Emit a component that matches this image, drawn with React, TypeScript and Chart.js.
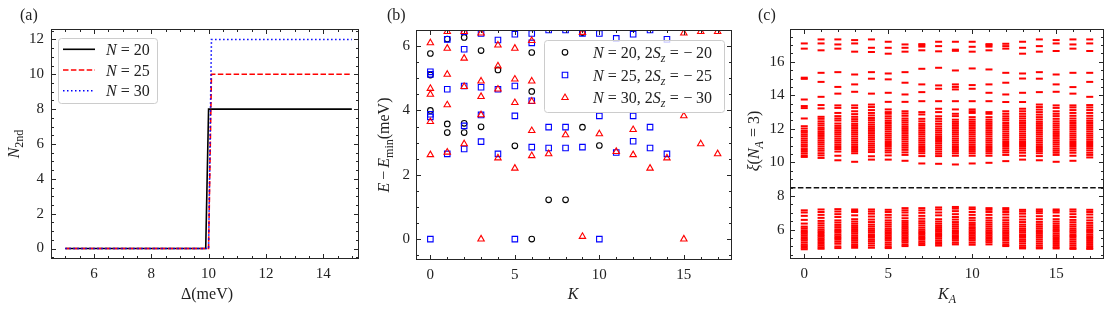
import React, { useEffect, useRef } from 'react';
import { Chart, registerables } from 'chart.js';

Chart.register(...registerables);

const FONT = '"Liberation Serif", "Times New Roman", serif';
const TICK_SIZE = 15;
const LABEL_SIZE = 16;
const LEG_SIZE = 16;
const INK = '#222222';

// ---------------- Panel (a) data ----------------
const deltaN20 = [5, 9.9, 10.0, 15];
const n2ndN20 = [0, 0, 8, 8];
const deltaN25 = [5, 10.0, 10.1, 15];
const n2ndN25 = [0, 0, 10, 10];
const deltaN30 = [5, 10.0, 10.1, 15];
const n2ndN30 = [0, 0, 12, 12];
const aXTicks = [6, 8, 10, 12, 14];
const aYTicks = [0, 2, 4, 6, 8, 10, 12];

// ---------------- Panel (b) data ----------------
const kN20 = [0, 0, 0, 1, 1, 1, 2, 2, 2, 3, 3, 4, 5, 6, 6, 6, 7, 8, 9, 9, 10];
const eN20 = [5.77, 5.1, 4.0, 6.22, 3.58, 3.31, 6.27, 3.6, 3.31, 5.86, 3.49, 5.26, 2.9, 5.8, 4.59, 0, 1.22, 1.22, 6.42, 3.48, 2.91];
const kN25 = [0, 0, 0, 0, 0, 1, 1, 1, 2, 2, 2, 2, 2, 3, 3, 3, 3, 4, 4, 4, 5, 5, 5, 5, 6, 6, 6, 6, 7, 7, 7, 8, 8, 8, 9, 9, 10, 10, 10, 11, 11, 12, 12, 12, 13, 13, 13, 14, 14];
const eN25 = [5.2, 5.12, 3.88, 3.8, 0, 6.21, 4.66, 2.65, 6.45, 5.9, 4.76, 3.52, 2.8, 6.39, 4.72, 3.86, 3.03, 6.19, 4.66, 2.65, 6.37, 4.76, 3.83, 0, 6.39, 6.1, 4.3, 2.86, 6.5, 3.48, 2.83, 6.5, 3.48, 2.83, 6.39, 2.86, 6.39, 3.83, 0, 6.24, 2.69, 6.37, 3.83, 3.04, 6.5, 3.48, 2.83, 6.21, 2.65];
const kN30 = [0, 0, 0, 0, 0, 1, 1, 1, 1, 1, 2, 2, 2, 2, 3, 3, 3, 3, 3, 4, 4, 4, 4, 5, 5, 5, 5, 6, 6, 6, 6, 6, 7, 8, 9, 9, 10, 11, 12, 12, 13, 14, 15, 15, 15, 16, 16, 17, 17];
const eN30 = [6.1, 4.68, 4.5, 3.65, 2.62, 6.45, 5.93, 5.12, 4.17, 2.7, 6.45, 5.62, 4.74, 2.96, 6.4, 4.91, 4.43, 3.86, 0, 6.03, 5.38, 4.66, 2.52, 5.93, 4.97, 4.24, 2.2, 6.17, 4.91, 4.28, 3.37, 2.59, 2.65, 3.24, 6.42, 0.08, 3.27, 2.72, 3.4, 2.62, 2.2, 2.52, 6.4, 3.83, 0, 6.45, 2.96, 6.45, 2.65];
const bXTicks = [0, 5, 10, 15];
const bYTicks = [0, 2, 4, 6];

// ---------------- Panel (c) data: entanglement levels per K_A ----------------
const xiK0 = [17.09, 16.78, 15.05, 14.98, 13.75, 13.36, 13.24, 12.62, 12.16, 12.02, 11.88, 11.78, 11.66, 11.55, 11.42, 11.3, 11.18, 11.05, 10.94, 10.8, 10.68, 10.55, 10.42, 10.33,
  7.15, 7.02, 6.82, 6.58, 6.36, 6.18, 6.08, 5.96, 5.86, 5.76, 5.66, 5.55, 5.45, 5.36, 5.24, 5.12, 5.02, 4.92, 4.83];
const xiK1 = [17.33, 17.09, 16.68, 15.34, 14.8, 13.91, 13.42, 13.22, 12.72, 12.6, 12.45, 12.32, 12.2, 12.06, 11.95, 11.82, 11.7, 11.58, 11.45, 11.32, 11.2, 11.08, 10.95, 10.82, 10.7, 10.55, 10.42, 10.27,
  7.2, 7.05, 6.88, 6.7, 6.52, 6.38, 6.25, 6.12, 6.0, 5.9, 5.8, 5.68, 5.58, 5.48, 5.38, 5.26, 5.15, 5.04, 4.94, 4.86];
const xiK2 = [17.33, 17.03, 16.78, 15.38, 14.5, 14.1, 13.4, 13.25, 12.95, 12.76, 12.62, 12.5, 12.32, 12.18, 12.05, 11.92, 11.8, 11.68, 11.55, 11.42, 11.3, 11.18, 11.05, 10.92, 10.8, 10.65, 10.4, 10.13,
  7.22, 7.08, 6.92, 6.75, 6.55, 6.42, 6.28, 6.15, 6.02, 5.92, 5.82, 5.7, 5.6, 5.5, 5.4, 5.28, 5.16, 5.0, 4.9];
const xiK3 = [17.29, 17.09, 16.6, 15.24, 14.65, 14.21, 13.4, 13.25, 13.05, 12.88, 12.72, 12.58, 12.45, 12.3, 12.18, 12.05, 11.92, 11.8, 11.68, 11.55, 11.42, 11.3, 11.18, 11.05, 10.92, 10.8, 10.68, 10.55, 10.04,
  7.2, 7.12, 7.05, 6.85, 6.62, 6.48, 6.35, 6.22, 6.1, 5.98, 5.88, 5.78, 5.66, 5.55, 5.45, 5.35, 5.24, 5.12, 5.02, 4.92];
const xiK4 = [17.33, 16.83, 16.58, 15.38, 14.99, 14.1, 13.45, 13.3, 13.12, 12.95, 12.8, 12.65, 12.52, 12.38, 12.25, 12.12, 12.0, 11.88, 11.75, 11.62, 11.5, 11.38, 11.25, 11.12, 11.0, 10.88, 10.75, 10.62, 10.37, 10.17,
  7.2, 7.08, 6.95, 6.78, 6.6, 6.45, 6.3, 6.18, 6.05, 5.95, 5.85, 5.72, 5.62, 5.52, 5.4, 5.3, 5.18, 5.05, 4.92];
const xiK5 = [17.19, 16.83, 16.48, 15.3, 14.95, 14.15, 13.61, 13.16, 13.0, 12.9, 12.75, 12.62, 12.48, 12.35, 12.22, 12.1, 11.98, 11.85, 11.72, 11.6, 11.48, 11.35, 11.22, 11.1, 10.98, 10.85, 10.72, 10.6, 10.42, 10.17,
  7.18, 7.05, 6.88, 6.72, 6.55, 6.42, 6.3, 6.18, 6.05, 5.95, 5.85, 5.75, 5.65, 5.55, 5.45, 5.35, 5.22, 5.1, 4.98, 4.9];
const xiK6 = [17.03, 16.83, 16.6, 15.38, 14.75, 14.05, 13.61, 13.05, 12.92, 12.78, 12.62, 12.5, 12.38, 12.25, 12.12, 12.0, 11.88, 11.75, 11.62, 11.5, 11.38, 11.25, 11.12, 11.0, 10.88, 10.75, 10.6, 10.45, 10.1,
  7.28, 7.15, 7.02, 6.85, 6.68, 6.52, 6.4, 6.28, 6.16, 6.05, 5.95, 5.85, 5.75, 5.65, 5.55, 5.45, 5.35, 5.25, 5.12, 5.02];
const xiK7 = [17.05, 16.98, 16.9, 16.68, 15.58, 14.65, 14.19, 13.65, 13.0, 12.86, 12.6, 12.45, 12.3, 12.18, 12.05, 11.92, 11.8, 11.68, 11.55, 11.42, 11.3, 11.18, 11.05, 10.92, 10.8, 10.68, 10.55, 10.38, 9.94,
  7.28, 7.15, 7.0, 6.82, 6.65, 6.5, 6.38, 6.25, 6.12, 6.0, 5.9, 5.8, 5.7, 5.6, 5.5, 5.4, 5.28, 5.18, 5.08];
const xiK8 = [17.19, 16.93, 16.62, 15.64, 14.59, 14.39, 13.65, 13.2, 13.0, 12.75, 12.6, 12.45, 12.3, 12.15, 12.02, 11.9, 11.78, 11.65, 11.52, 11.4, 11.28, 11.15, 11.02, 10.9, 10.78, 10.65, 10.52, 10.38, 9.92,
  7.32, 7.2, 7.02, 6.85, 6.62, 6.48, 6.35, 6.22, 6.1, 5.98, 5.88, 5.78, 5.68, 5.58, 5.48, 5.36, 5.25, 5.15, 5.05];
const xiK9 = [17.19, 16.72, 16.65, 15.48, 14.65, 14.5, 14.35, 13.65, 13.16, 12.9, 12.76, 12.55, 12.42, 12.3, 12.18, 12.05, 11.92, 11.8, 11.68, 11.55, 11.42, 11.3, 11.18, 11.05, 10.92, 10.8, 10.68, 10.55, 10.4, 9.88,
  7.35, 7.25, 7.1, 6.92, 6.75, 6.6, 6.45, 6.32, 6.2, 6.08, 5.96, 5.86, 5.76, 5.66, 5.56, 5.45, 5.35, 5.22, 5.12];
const xiK10 = [17.19, 16.89, 16.6, 15.6, 14.61, 14.39, 13.65, 13.16, 13.05, 12.95, 12.7, 12.55, 12.42, 12.3, 12.18, 12.05, 11.92, 11.8, 11.68, 11.55, 11.42, 11.3, 11.18, 11.05, 10.92, 10.8, 10.68, 10.55, 10.4, 9.94,
  7.32, 7.22, 7.05, 6.88, 6.7, 6.55, 6.4, 6.28, 6.15, 6.05, 5.95, 5.85, 5.75, 5.65, 5.55, 5.45, 5.35, 5.22, 5.1];
const xiK11 = [17.05, 16.98, 16.9, 16.68, 15.54, 14.65, 14.15, 13.65, 13.0, 12.9, 12.7, 12.55, 12.42, 12.3, 12.18, 12.05, 11.92, 11.8, 11.68, 11.55, 11.42, 11.3, 11.18, 11.05, 10.92, 10.8, 10.68, 10.55, 10.4, 9.98,
  7.28, 7.18, 7.05, 6.88, 6.7, 6.55, 6.42, 6.3, 6.18, 6.06, 5.95, 5.85, 5.75, 5.65, 5.55, 5.45, 5.35, 5.25, 5.12];
const xiK12 = [17.07, 16.93, 16.78, 15.34, 14.75, 14.05, 13.6, 13.05, 12.9, 12.75, 12.62, 12.5, 12.35, 12.22, 12.1, 11.98, 11.85, 11.72, 11.6, 11.48, 11.35, 11.22, 11.1, 10.98, 10.85, 10.72, 10.6, 10.45, 10.08,
  7.28, 7.18, 7.05, 6.9, 6.72, 6.56, 6.42, 6.3, 6.18, 6.06, 5.95, 5.85, 5.75, 5.65, 5.55, 5.45, 5.35, 5.22, 5.1, 5.02];
const xiK13 = [17.19, 16.83, 16.48, 15.3, 15.0, 14.15, 13.6, 13.2, 13.05, 12.9, 12.75, 12.62, 12.48, 12.35, 12.22, 12.1, 11.98, 11.85, 11.72, 11.6, 11.48, 11.35, 11.22, 11.1, 10.98, 10.85, 10.72, 10.58, 10.4, 10.17,
  7.18, 7.08, 6.95, 6.78, 6.6, 6.45, 6.3, 6.18, 6.05, 5.95, 5.85, 5.72, 5.62, 5.52, 5.4, 5.3, 5.18, 5.05, 4.95, 4.88];
const xiK14 = [17.33, 16.93, 16.6, 15.38, 14.99, 14.19, 13.45, 13.3, 13.15, 13.0, 12.85, 12.7, 12.56, 12.42, 12.3, 12.18, 12.05, 11.92, 11.8, 11.68, 11.55, 11.42, 11.3, 11.18, 11.05, 10.92, 10.8, 10.68, 10.55, 10.38, 10.13,
  7.2, 7.1, 6.98, 6.8, 6.62, 6.46, 6.32, 6.2, 6.08, 5.96, 5.86, 5.75, 5.64, 5.54, 5.42, 5.3, 5.18, 5.06, 4.95, 4.88];
const xiK15 = [17.29, 17.09, 16.64, 15.24, 14.65, 14.21, 13.4, 13.25, 13.05, 12.9, 12.76, 12.6, 12.45, 12.32, 12.2, 12.08, 11.95, 11.82, 11.7, 11.58, 11.45, 11.32, 11.2, 11.08, 10.95, 10.82, 10.7, 10.58, 10.45, 10.04,
  7.2, 7.12, 7.02, 6.82, 6.62, 6.48, 6.35, 6.22, 6.1, 5.98, 5.88, 5.76, 5.65, 5.55, 5.44, 5.32, 5.2, 5.08, 4.96, 4.88];
const xiK16 = [17.33, 17.03, 16.78, 15.34, 14.49, 14.1, 13.4, 13.28, 13.12, 12.95, 12.78, 12.62, 12.48, 12.35, 12.22, 12.1, 11.98, 11.85, 11.72, 11.6, 11.48, 11.35, 11.22, 11.1, 10.98, 10.85, 10.72, 10.58, 10.4, 10.1,
  7.2, 7.08, 6.92, 6.75, 6.58, 6.44, 6.3, 6.18, 6.05, 5.94, 5.84, 5.72, 5.62, 5.52, 5.4, 5.28, 5.16, 5.04, 4.92, 4.85];
const xiK17 = [17.33, 17.09, 16.64, 15.34, 14.8, 13.91, 13.42, 13.28, 13.12, 12.95, 12.78, 12.62, 12.48, 12.35, 12.22, 12.1, 11.98, 11.85, 11.72, 11.6, 11.48, 11.35, 11.22, 11.1, 10.98, 10.85, 10.72, 10.58, 10.45, 10.3,
  7.18, 7.05, 6.9, 6.72, 6.55, 6.4, 6.26, 6.14, 6.02, 5.92, 5.82, 5.7, 5.6, 5.5, 5.38, 5.26, 5.14, 5.02, 4.92, 4.85];
const xiByKA = [xiK0, xiK1, xiK2, xiK3, xiK4, xiK5, xiK6, xiK7, xiK8, xiK9, xiK10, xiK11, xiK12, xiK13, xiK14, xiK15, xiK16, xiK17];
const gapLevel = 8.5;
const cXTicks = [0, 5, 10, 15];
const cYTicks = [6, 8, 10, 12, 14, 16];

// ---------------- helpers ----------------
type Seg = { t?: string; it?: boolean; sub?: boolean; gap?: number };

const pts = (xs: number[], ys: number[]) => xs.map((x, i) => ({ x, y: ys[i] }));

function fontFor(s: Seg, size: number) {
  return `${s.it ? 'italic ' : ''}${s.sub ? Math.round(size * 0.72) : size}px ${FONT}`;
}
function richWidth(ctx: CanvasRenderingContext2D, segs: Seg[], size: number) {
  let w = 0;
  for (const s of segs) {
    if (s.gap) { w += s.gap; continue; }
    ctx.font = fontFor(s, size);
    w += ctx.measureText(s.t || '').width;
  }
  return w;
}
function drawRich(ctx: CanvasRenderingContext2D, segs: Seg[], x: number, y: number, size: number, align: 'left' | 'center') {
  let cx = align === 'center' ? x - richWidth(ctx, segs, size) / 2 : x;
  ctx.textAlign = 'left';
  ctx.textBaseline = 'alphabetic';
  ctx.fillStyle = INK;
  for (const s of segs) {
    if (s.gap) { cx += s.gap; continue; }
    ctx.font = fontFor(s, size);
    ctx.fillText(s.t || '', cx, y + (s.sub ? size * 0.25 : 0));
    cx += ctx.measureText(s.t || '').width;
  }
}
function drawRotated(ctx: CanvasRenderingContext2D, segs: Seg[], x: number, y: number, size: number) {
  ctx.save();
  ctx.translate(x, y);
  ctx.rotate(-Math.PI / 2);
  drawRich(ctx, segs, 0, 0, size, 'center');
  ctx.restore();
}
function legendFrame(ctx: CanvasRenderingContext2D, x0: number, y0: number, x1: number, y1: number) {
  const r = 3;
  ctx.beginPath();
  ctx.moveTo(x0 + r, y0);
  ctx.arcTo(x1, y0, x1, y1, r);
  ctx.arcTo(x1, y1, x0, y1, r);
  ctx.arcTo(x0, y1, x0, y0, r);
  ctx.arcTo(x0, y0, x1, y0, r);
  ctx.closePath();
  ctx.fillStyle = 'rgba(255,255,255,0.8)';
  ctx.fill();
  ctx.strokeStyle = '#cccccc';
  ctx.lineWidth = 1;
  ctx.stroke();
}

type AxisSpec = {
  min: number; max: number; ticks: number[]; minor: number; size: number; pad: number;
};

function makeScales(xs: AxisSpec, ys: AxisSpec) {
  const common = (a: AxisSpec) => ({
    type: 'linear' as const,
    min: a.min,
    max: a.max,
    grid: { display: false, drawTicks: false, tickLength: 0 },
    border: { display: false },
    afterBuildTicks: (s: any) => { s.ticks = a.ticks.map((v) => ({ value: v })); },
    ticks: {
      font: { family: FONT, size: TICK_SIZE },
      color: INK,
      padding: a.pad,
      maxRotation: 0,
      autoSkip: false,
      callback: (v: any) => String(v),
    },
  });
  return {
    x: { ...common(xs), afterFit: (s: any) => { s.height = xs.size; } },
    y: { ...common(ys), afterFit: (s: any) => { s.width = ys.size; } },
  };
}

function framePlugin(xs: AxisSpec, ys: AxisSpec, extra: (chart: any) => void) {
  return {
    id: 'frameTicks',
    afterDraw(chart: any) {
      const { ctx, chartArea: a, scales } = chart;
      const x = scales.x, y = scales.y;
      ctx.save();
      const L = Math.round(a.left) + 0.5, R = Math.round(a.right) - 0.5;
      const T = Math.round(a.top) + 0.5, B = Math.round(a.bottom) - 0.5;
      ctx.strokeStyle = '#262626';
      ctx.lineWidth = 1;
      const isMajor = (list: number[], v: number) => list.some((m) => Math.abs(m - v) < 1e-6);
      ctx.beginPath();
      for (let i = Math.ceil(xs.min / xs.minor - 1e-9); i * xs.minor <= xs.max + 1e-9; i++) {
        const v = i * xs.minor;
        const p = Math.round(x.getPixelForValue(v)) + 0.5;
        const len = isMajor(xs.ticks, v) ? 4.5 : 2.5;
        ctx.moveTo(p, B); ctx.lineTo(p, B - len);
        ctx.moveTo(p, T); ctx.lineTo(p, T + len);
      }
      for (let i = Math.ceil(ys.min / ys.minor - 1e-9); i * ys.minor <= ys.max + 1e-9; i++) {
        const v = i * ys.minor;
        const p = Math.round(y.getPixelForValue(v)) + 0.5;
        const len = isMajor(ys.ticks, v) ? 4.5 : 2.5;
        ctx.moveTo(L, p); ctx.lineTo(L + len, p);
        ctx.moveTo(R, p); ctx.lineTo(R - len, p);
      }
      ctx.stroke();
      ctx.strokeRect(L, T, R - L, B - T);
      extra(chart);
      ctx.restore();
    },
  };
}

// ---------------- chart configs ----------------
function configA(): any {
  const xs: AxisSpec = { min: 4.5, max: 15.25, ticks: aXTicks, minor: 0.5, size: 50, pad: 6 };
  const ys: AxisSpec = { min: -0.6, max: 12.6, ticks: aYTicks, minor: 0.5, size: 51, pad: 7 };
  const series = [
    { label: 'N=20', data: pts(deltaN20, n2ndN20), borderColor: '#000000', borderDash: [], order: 3 },
    { label: 'N=25', data: pts(deltaN25, n2ndN25), borderColor: '#ff0000', borderDash: [5.5, 2.4], order: 2 },
    { label: 'N=30', data: pts(deltaN30, n2ndN30), borderColor: '#0000ff', borderDash: [1.5, 2.5], order: 1 },
  ];
  return {
    type: 'line',
    data: {
      datasets: series.map((s) => ({ ...s, borderWidth: 1.6, pointRadius: 0, tension: 0, fill: false, clip: 0 })),
    },
    options: {
      animation: false, responsive: false, devicePixelRatio: 1, events: [],
      layout: { padding: { left: 0, right: 11, top: 29, bottom: 0 } },
      plugins: { legend: { display: false }, tooltip: { enabled: false } },
      scales: makeScales(xs, ys),
    },
    plugins: [framePlugin(xs, ys, (chart) => {
      const ctx = chart.ctx as CanvasRenderingContext2D;
      legendFrame(ctx, 58.5, 38.5, 157.5, 103.5);
      const rows = [49.3, 70, 90.7];
      const labels = ['20', '25', '30'];
      series.forEach((s, i) => {
        ctx.save();
        ctx.strokeStyle = s.borderColor;
        ctx.lineWidth = 1.6;
        ctx.setLineDash(s.borderDash);
        ctx.beginPath();
        ctx.moveTo(63, rows[i]); ctx.lineTo(95, rows[i]);
        ctx.stroke();
        ctx.restore();
        drawRich(ctx, [{ t: 'N', it: true }, { gap: 4 }, { t: '=' }, { gap: 4 }, { t: labels[i] }], 106, rows[i] + 5.5, LEG_SIZE, 'left');
      });
      drawRich(ctx, [{ t: '(a)' }], 20, 20, LABEL_SIZE, 'left');
      drawRich(ctx, [{ t: 'Δ(meV)' }], 207, 299, LABEL_SIZE, 'center');
      drawRotated(ctx, [{ t: 'N', it: true }, { t: '2nd', sub: true }], 19, 144, LABEL_SIZE);
    })],
  };
}

function configB(): any {
  const xs: AxisSpec = { min: -0.85, max: 17.85, ticks: bXTicks, minor: 1, size: 49, pad: 6 };
  const ys: AxisSpec = { min: -0.65, max: 6.5, ticks: bYTicks, minor: 0.5, size: 46, pad: 6 };
  const series = [
    { label: 'N=20', data: pts(kN20, eN20), borderColor: '#000000', pointStyle: 'circle', pointRadius: 2.8, order: 3, tail: '20' },
    { label: 'N=25', data: pts(kN25, eN25), borderColor: '#0000ff', pointStyle: 'rect', pointRadius: 3.9, order: 2, tail: '25' },
    { label: 'N=30', data: pts(kN30, eN30), borderColor: '#ff0000', pointStyle: 'triangle', pointRadius: 3.7, order: 1, tail: '30' },
  ];
  return {
    type: 'scatter',
    data: {
      datasets: series.map((s) => ({
        label: s.label, data: s.data, borderColor: s.borderColor, backgroundColor: 'rgba(0,0,0,0)',
        pointStyle: s.pointStyle, pointRadius: s.pointRadius, pointBorderWidth: 1.1, borderWidth: 1.1, order: s.order, clip: 0,
      })),
    },
    options: {
      animation: false, responsive: false, devicePixelRatio: 1, events: [],
      layout: { padding: { left: 0, right: 8, top: 30, bottom: 0 } },
      plugins: { legend: { display: false }, tooltip: { enabled: false } },
      scales: makeScales(xs, ys),
    },
    plugins: [framePlugin(xs, ys, (chart) => {
      const ctx = chart.ctx as CanvasRenderingContext2D;
      legendFrame(ctx, 174.5, 40.5, 354.5, 112.5);
      const rows = [52.3, 75, 97.7];
      const mx = 195;
      series.forEach((s, i) => {
        const cy = rows[i];
        ctx.save();
        ctx.strokeStyle = s.borderColor;
        ctx.lineWidth = 1.1;
        ctx.beginPath();
        if (s.pointStyle === 'circle') {
          ctx.arc(mx, cy, s.pointRadius, 0, Math.PI * 2);
        } else if (s.pointStyle === 'rect') {
          const h = s.pointRadius * Math.SQRT1_2;
          ctx.rect(mx - h, cy - h, 2 * h, 2 * h);
        } else {
          const r = s.pointRadius;
          ctx.moveTo(mx, cy - r);
          ctx.lineTo(mx + r * 0.866, cy + r / 2);
          ctx.lineTo(mx - r * 0.866, cy + r / 2);
          ctx.closePath();
        }
        ctx.stroke();
        ctx.restore();
        drawRich(ctx, [
          { t: 'N', it: true }, { gap: 4 }, { t: '=' }, { gap: 4 }, { t: s.tail + ', 2' }, { t: 'S', it: true }, { t: 'z', it: true, sub: true },
          { gap: 4.5 }, { t: '=' }, { gap: 4.5 }, { t: '−' }, { gap: 3.5 }, { t: s.tail },
        ], 223, cy + 5.5, LEG_SIZE, 'left');
      });
      drawRich(ctx, [{ t: '(b)' }], 17, 20, LABEL_SIZE, 'left');
      drawRich(ctx, [{ t: 'K', it: true }], 203, 299, LABEL_SIZE, 'center');
      drawRotated(ctx, [{ t: 'E', it: true }, { gap: 3 }, { t: '−' }, { gap: 3 }, { t: 'E', it: true }, { t: 'min', sub: true }, { t: '(meV)' }], 19, 145, LABEL_SIZE);
    })],
  };
}

function configC(): any {
  const xs: AxisSpec = { min: -0.85, max: 17.85, ticks: cXTicks, minor: 1, size: 50, pad: 6 };
  const ys: AxisSpec = { min: 4.25, max: 17.95, ticks: cYTicks, minor: 0.5, size: 50, pad: 5.5 };
  const levelPoints = xiByKA.flatMap((vals, k) => vals.map((v) => ({ x: k, y: v })));
  return {
    type: 'scatter',
    data: {
      datasets: [
        {
          type: 'scatter', label: 'xi', data: levelPoints, borderColor: '#ff0000', backgroundColor: '#ff0000',
          pointStyle: 'line', pointRadius: 3.5, pointBorderWidth: 2, borderWidth: 2, order: 2, clip: 0,
        },
        {
          type: 'line', label: 'gap', data: [{ x: xs.min, y: gapLevel }, { x: xs.max, y: gapLevel }],
          borderColor: '#111111', borderWidth: 1.5, borderDash: [5.5, 2.4], pointRadius: 0, fill: false, order: 1, clip: 0,
        },
      ],
    },
    options: {
      animation: false, responsive: false, devicePixelRatio: 1, events: [],
      layout: { padding: { left: 0, right: 8, top: 29, bottom: 0 } },
      plugins: { legend: { display: false }, tooltip: { enabled: false } },
      scales: makeScales(xs, ys),
    },
    plugins: [framePlugin(xs, ys, (chart) => {
      const ctx = chart.ctx as CanvasRenderingContext2D;
      drawRich(ctx, [{ t: '(c)' }], 18, 20, LABEL_SIZE, 'left');
      drawRich(ctx, [{ t: 'K', it: true }, { t: 'A', it: true, sub: true }], 207, 299, LABEL_SIZE, 'center');
      drawRotated(ctx, [{ t: 'ξ', it: true }, { t: '(' }, { t: 'N', it: true }, { t: 'A', it: true, sub: true }, { gap: 4 }, { t: '=' }, { gap: 4 }, { t: '3)' }], 19, 141, LABEL_SIZE);
    })],
  };
}

function Panel({ left, width, make }: { left: number; width: number; make: () => any }) {
  const ref = useRef<HTMLCanvasElement>(null);
  useEffect(() => {
    const chart = new Chart(ref.current as HTMLCanvasElement, make());
    return () => chart.destroy();
  }, []);
  return (
    <canvas
      ref={ref}
      width={width}
      height={309}
      style={{ position: 'absolute', left, top: 0, width, height: 309 }}
    />
  );
}

export default function App() {
  return (
    <div style={{ position: 'fixed', left: 0, top: 0, width: 1112, height: 309, background: '#ffffff', overflow: 'hidden' }}>
      <Panel left={0} width={370} make={configA} />
      <Panel left={370} width={370} make={configB} />
      <Panel left={740} width={372} make={configC} />
    </div>
  );
}
